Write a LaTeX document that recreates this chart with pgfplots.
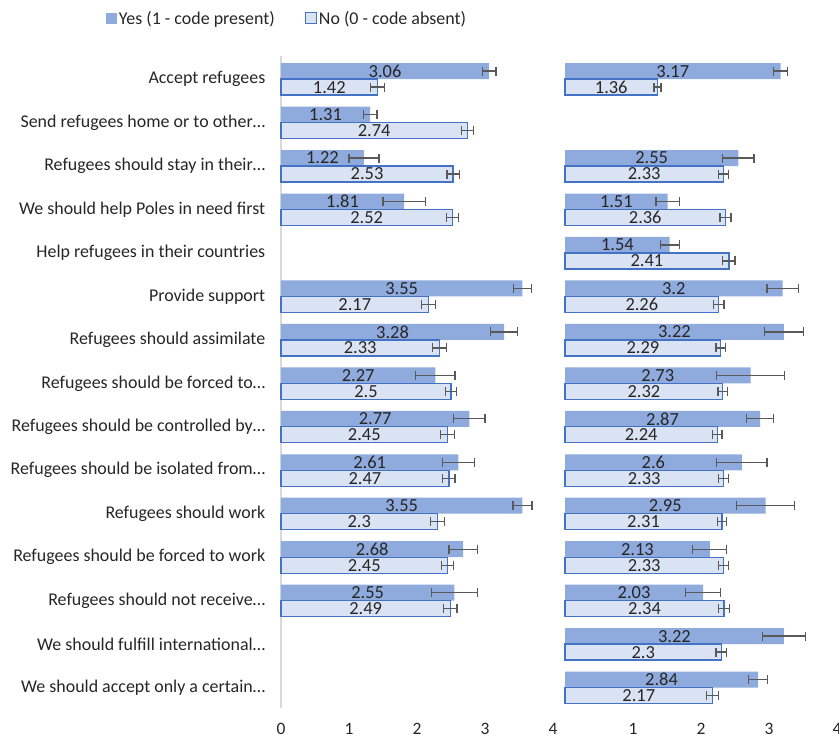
\documentclass[border=0pt]{standalone}
\usepackage{pgfplots}
\pgfplotsset{compat=1.18}
\usepackage{pgfplotstable}
\usepackage{fontspec}
\setmainfont{Carlito}
\definecolor{yesfill}{HTML}{8FAADC}
\definecolor{nofill}{HTML}{DAE3F3}
\definecolor{noedge}{HTML}{4472C4}
\definecolor{errc}{HTML}{595959}
\definecolor{axc}{HTML}{D9D9D9}

\pgfplotstableread{
y yes yerr no nerr
14 3.06 0.10 1.42 0.10
13 1.31 0.10 2.74 0.09
12 1.22 0.22 2.53 0.09
11 1.81 0.31 2.52 0.09
9 3.55 0.13 2.17 0.10
8 3.28 0.20 2.33 0.10
7 2.27 0.29 2.50 0.08
6 2.77 0.23 2.45 0.10
5 2.61 0.24 2.47 0.09
4 3.55 0.14 2.30 0.10
3 2.68 0.21 2.45 0.09
2 2.55 0.34 2.49 0.10
}\lefttab

\pgfplotstableread{
y yes yerr no nerr
14 3.17 0.10 1.36 0.05
12 2.55 0.23 2.33 0.07
11 1.51 0.17 2.36 0.08
10 1.54 0.14 2.41 0.09
9 3.20 0.23 2.26 0.08
8 3.22 0.29 2.29 0.07
7 2.73 0.50 2.32 0.07
6 2.87 0.20 2.24 0.07
5 2.60 0.37 2.33 0.07
4 2.95 0.43 2.31 0.07
3 2.13 0.25 2.33 0.07
2 2.03 0.26 2.34 0.08
1 3.22 0.32 2.30 0.08
0 2.84 0.14 2.17 0.09
}\righttab

\pgfplotsset{
  panel/.style={
    x=68bp, y=43.46bp,
    xmin=0, xmax=4, ymin=-0.47, ymax=14.53,
    xbar, bar width=16bp,
    axis x line*=bottom, axis y line*=left,
    x axis line style={draw=none},
    tick style={draw=none},
    /pgf/number format/assume math mode=true,
    ticklabel style={font=\fontsize{17.5}{20}\selectfont, text=black!85},
    xticklabel style={yshift=-12bp},
    nodes near coords,
    nodes near coords style={anchor=center, inner sep=0pt, font=\fontsize{18.5}{20}\selectfont, text=black!85},
    visualization depends on={rawx \as \rawx},
    every node near coord/.append style={shift={(axis direction cs:-\rawx/2,0)}},
    clip=false,
  },
  yesbar/.style={fill=yesfill, draw=none, bar shift=8bp,
    error bars/.cd, x dir=both, x explicit,
    error bar style={errc, line width=1.3pt},
    error mark options={rotate=90, errc, mark size=4.5bp, line width=1.3pt}},
  nobar/.style={fill=nofill, draw=noedge, line width=1.3pt, bar shift=-8bp,
    error bars/.cd, x dir=both, x explicit,
    error bar style={errc, line width=1.3pt},
    error mark options={rotate=90, errc, mark size=4.5bp, line width=1.3pt}},
}

\begin{document}
\begin{tikzpicture}
\begin{axis}[panel, at={(0,0)},
  y axis line style={draw=axc, line width=1.5pt},
  xtick={0,1,2,3,4},
  ytick={0,...,14},
  yticklabels={We should accept only a certain\ldots,
               We should fulfill international\ldots,
               Refugees should not receive\ldots,
               Refugees should be forced to work,
               Refugees should work,
               Refugees should be isolated from\ldots,
               Refugees should be controlled by\ldots,
               Refugees should be forced to\ldots,
               Refugees should assimilate,
               Provide support,
               Help refugees in their countries,
               We should help Poles in need first,
               Refugees should stay in their\ldots,
               Send refugees home or to other\ldots,
               Accept refugees},
  yticklabel style={xshift=-8bp, font=\fontsize{18}{21}\selectfont},
  legend style={at={(0.022,1.058)}, anchor=center, draw=none, fill=none,
    legend columns=2, font=\fontsize{18}{21}\selectfont, text=black!85,
    /tikz/every even column/.append style={column sep=28bp},
    legend cell align=left},
  legend image code/.code={\path[#1] (-3bp,-5.5bp) rectangle (8bp,5.5bp);},
]
\addlegendimage{fill=yesfill, draw=none}
\addlegendentry{Yes (1 - code present)}
\addlegendimage{fill=nofill, draw=noedge, line width=1.2pt}
\addlegendentry{No (0 - code absent)}
\addplot[forget plot, yesbar] table[x=yes, y=y, x error=yerr]{\lefttab};
\addplot[forget plot, nobar] table[x=no, y=y, x error=nerr]{\lefttab};
\end{axis}
\begin{axis}[panel, at={(284bp,0)},
  y axis line style={draw=none},
  xtick={1,2,3,4},
  ytick=\empty,
]
\addplot[yesbar] table[x=yes, y=y, x error=yerr]{\righttab};
\addplot[nobar] table[x=no, y=y, x error=nerr]{\righttab};
\end{axis}
\pgfresetboundingbox
\path[use as bounding box] (-281bp,-31bp) rectangle (558bp,708bp);
\end{tikzpicture}
\end{document}
